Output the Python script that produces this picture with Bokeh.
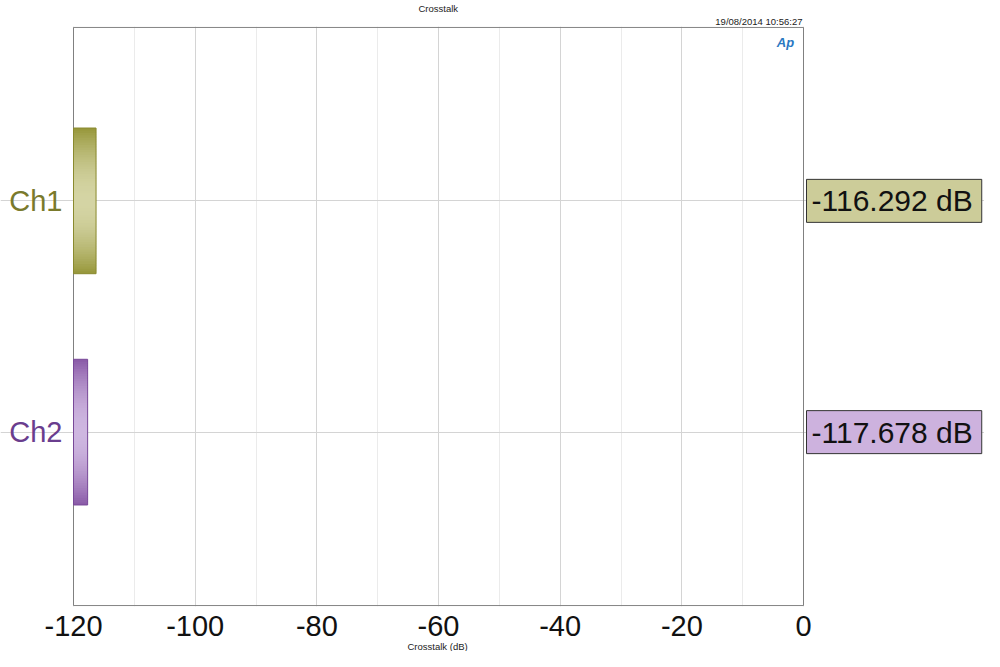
import math
from bokeh.plotting import figure
from bokeh.models import (Range1d, FixedTicker, Title, PrintfTickFormatter)
from bokeh.core.properties import value
from bokeh.embed import file_html
from bokeh.resources import INLINE

# ---- data ----
channels = ["Ch1", "Ch2"]
crosstalk_db = [-116.292, -117.678]
x_tick_values = [-120, -100, -80, -60, -40, -20, 0]
title_text = "Crosstalk"
x_label = "Crosstalk (dB)"
timestamp = "19/08/2014 10:56:27"

# ---- styles ----
bar_edge_colors = [(150, 150, 56), (136, 88, 166)]
bar_mid_colors = [(212, 212, 164), (206, 182, 224)]
bar_line_colors = ["#8a8a2e", "#784898"]
label_colors = ["#7a7a2c", "#6a3d8e"]
box_colors = ["#cccc99", "#cdb2de"]
FONT = "Liberation Sans"

W, H = 984, 651
PLOT_LEFT, PLOT_RIGHT = 73, 803          # screen x of the data area edges
x_min, x_max = x_tick_values[0], x_tick_values[-1]
px_per_unit = (PLOT_RIGHT - PLOT_LEFT) / (x_max - x_min)
view_left = x_min - PLOT_LEFT / px_per_unit
view_right = x_max + (W - PLOT_RIGHT) / px_per_unit

n = len(channels)
y_span = n + 0.5
centers = [n - i - 0.25 for i in range(n)]
bar_h = 0.63
pad = 0.004

p = figure(width=W, height=H,
           x_range=Range1d(view_left, view_right),
           y_range=Range1d(-pad, y_span + pad),
           output_backend="svg", toolbar_location=None, title=None,
           min_border_left=0, min_border_right=0,
           min_border_top=24, min_border_bottom=0)
p.background_fill_color = "white"
p.border_fill_color = "white"
p.outline_line_color = None

# titles (timestamp closest to the plot, main title above it)
p.add_layout(Title(text=timestamp, align="right", offset=W - PLOT_RIGHT + 1,
                   text_font=FONT, text_font_size="9.5px",
                   text_font_style="normal", text_color="#222222",
                   standoff=0), "above")
p.add_layout(Title(text=title_text, align="left", offset=418,
                   text_font=FONT, text_font_size="9.5px",
                   text_font_style="normal", text_color="#222222",
                   standoff=0), "above")

# x axis
minor_ticks = [(a + b) / 2 for a, b in zip(x_tick_values[:-1], x_tick_values[1:])]
p.xaxis.ticker = FixedTicker(ticks=x_tick_values, minor_ticks=minor_ticks)
p.xaxis.bounds = (x_min, x_max)
p.xaxis.formatter = PrintfTickFormatter(format="%d")
p.xaxis.major_label_text_font = FONT
p.xaxis.major_label_text_font_size = "29px"
p.xaxis.major_label_text_color = "#111111"
p.xaxis.major_label_standoff = 3
p.xaxis.axis_line_color = None
p.xaxis.major_tick_line_color = None
p.xaxis.minor_tick_line_color = None
# axis title, centred under the data area
p.add_layout(Title(text=x_label, align="left", offset=407,
                   text_font=FONT, text_font_size="9.5px",
                   text_font_style="normal", text_color="#222222",
                   standoff=0), "below")

p.yaxis.visible = False

p.xgrid.ticker = FixedTicker(ticks=x_tick_values, minor_ticks=minor_ticks)
p.xgrid.grid_line_color = "#d4d4d4"
p.xgrid.minor_grid_line_color = "#ebebeb"
p.ygrid.ticker = FixedTicker(ticks=centers)
p.ygrid.grid_line_color = "#d4d4d4"
p.ygrid.bounds = (x_min, x_max)

# plot-area outline
p.quad(left=[x_min], right=[x_max], bottom=[0], top=[y_span],
       fill_color=None, line_color="#808080", line_width=1)

# gradient bars (vertical gradient: dark edges, light middle)
N = 60
for i, (ch, v) in enumerate(zip(channels, crosstalk_db)):
    c = centers[i]
    bottom0 = c - bar_h / 2
    lefts, rights, bottoms, tops, cols = [], [], [], [], []
    for k in range(N):
        t = (k + 0.5) / N
        w = math.sin(math.pi * t) ** 0.9
        e, m = bar_edge_colors[i], bar_mid_colors[i]
        col = tuple(int(round(e[j] + (m[j] - e[j]) * w)) for j in range(3))
        lefts.append(x_min)
        rights.append(v)
        bottoms.append(bottom0 + bar_h * k / N)
        tops.append(min(bottom0 + bar_h * (k + 1.6) / N, bottom0 + bar_h))
        cols.append("#%02x%02x%02x" % col)
    p.quad(left=lefts, right=rights, bottom=bottoms, top=tops,
           fill_color=cols, line_color=None)
    p.quad(left=[x_min], right=[v], bottom=[bottom0], top=[bottom0 + bar_h],
           fill_color=None, line_color=bar_line_colors[i], line_width=1)

# channel names at the left
p.text(x=[x_min] * n, y=centers, text=channels, x_offset=-11,
       text_align="right", text_baseline="middle",
       text_font=value(FONT), text_font_size="29px",
       text_color=label_colors)

# value boxes at the right
p.text(x=[x_max] * n, y=centers, text=[f"{v:.3f} dB" for v in crosstalk_db],
       x_offset=3, text_align="left", text_baseline="middle",
       text_font=value(FONT), text_font_size="30px", text_color="#111111",
       background_fill_color=box_colors, border_line_color="#333333",
       border_line_width=1, padding=(5, 9, 5, 5))

# AP logo
p.text(x=[x_max], y=[y_span], text=["Ap"], x_offset=-18, y_offset=15,
       text_align="center", text_baseline="middle",
       text_font=value(FONT), text_font_size="13px",
       text_font_style="bold italic", text_color="#2a78c2")

open("out.html", "w").write(file_html(p, INLINE))
